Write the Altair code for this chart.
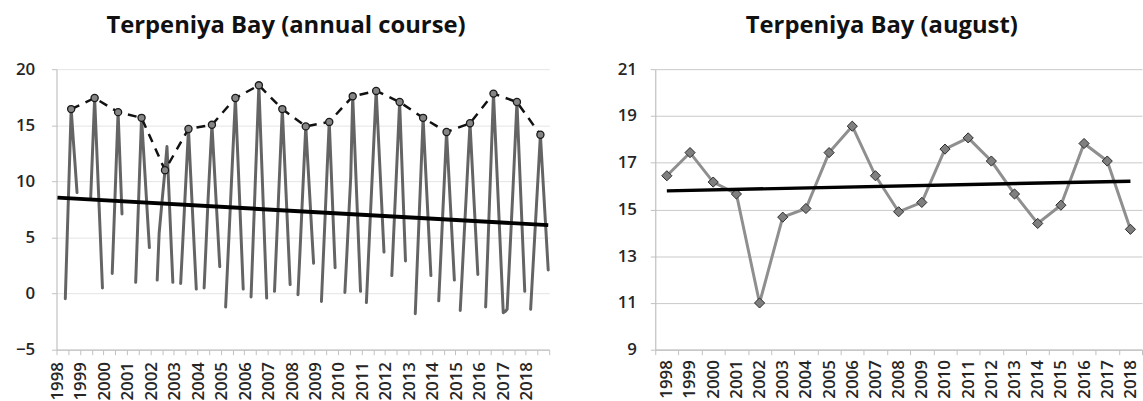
import altair as alt
import pandas as pd

N = None  # no observation that month (ice season)

years = list(range(1998, 2019))

# Monthly mean sea surface temperature, Jan..Dec, degrees C
sst_1998 = [N, N, N, N, -0.45, 5.2, 10.8, 16.44, 13.9, 11.5, 9.0, N]
sst_1999 = [N, N, N, N, N, 8.6, 13.0, 17.43, 13.2, 9.0, 4.8, 0.5]
sst_2000 = [N, N, N, N, 1.8, 6.6, 11.4, 16.17, 11.6, 7.1, N, N]
sst_2001 = [N, N, N, N, 1.0, 5.9, 10.8, 15.66, 12.8, 9.9, 7.0, 4.1]
sst_2002 = [N, N, N, 1.2, 5.4, 7.3, 9.2, 11.0, 13.1, 9.1, 5.0, 1.0]
sst_2003 = [N, N, N, 0.9, 4.3, 7.8, 11.2, 14.67, 11.0, 7.5, 3.9, 0.4]
sst_2004 = [N, N, N, 0.5, 4.4, 8.3, 11.7, 15.04, 11.9, 8.7, 5.6, 2.4]
sst_2005 = [N, N, -1.2, 2.5, 6.2, 10.0, 13.7, 17.43, 13.2, 9.0, 4.7, 0.4]
sst_2006 = [N, N, N, -0.3, 4.4, 9.1, 13.8, 18.56, 13.8, 9.1, 4.3, -0.4]
sst_2007 = [N, N, N, 0.2, 4.3, 8.3, 12.4, 16.44, 12.5, 8.6, 4.7, 0.8]
sst_2008 = [N, N, N, -0.1, 3.6, 7.4, 11.2, 14.9, 11.8, 8.8, 5.7, 2.7]
sst_2009 = [N, N, N, -0.7, 3.3, 7.3, 11.4, 15.3, 11.0, 6.6, 2.3, N]
sst_2010 = [N, N, N, 0.1, 3.5, 7.0, 10.4, 17.58, 13.3, 8.9, 4.6, 0.2]
sst_2011 = [N, N, -0.8, 3.0, 6.8, 10.5, 14.3, 18.06, 14.5, 10.9, 7.3, 3.7]
sst_2012 = [N, N, N, 1.6, 5.5, 9.3, 13.2, 17.07, 12.4, 7.6, 2.9, N]
sst_2013 = [N, N, N, -1.8, 2.6, 6.9, 11.2, 15.66, 12.1, 8.6, 5.1, 1.6]
sst_2014 = [N, N, N, -0.65, 3.1, 6.9, 10.6, 14.4, 11.1, 7.8, 4.5, 1.2]
sst_2015 = [N, N, -1.5, 1.8, 5.2, 8.5, 11.9, 15.18, 11.8, 8.4, 5.1, 1.7]
sst_2016 = [N, N, N, -1.2, 3.5, 8.3, 13.0, 17.82, 13.9, 10.0, 6.1, 2.2]
sst_2017 = [-1.7, -1.6, -1.4, 2.2, 5.8, 9.4, 13.2, 17.07, 12.8, 8.6, 4.4, 0.2]
sst_2018 = [N, N, -1.4, 1.7, 4.8, 7.9, 11.0, 14.15, 11.1, 8.1, 5.1, 2.1]

monthly_by_year = [
    sst_1998, sst_1999, sst_2000, sst_2001, sst_2002, sst_2003, sst_2004,
    sst_2005, sst_2006, sst_2007, sst_2008, sst_2009, sst_2010, sst_2011,
    sst_2012, sst_2013, sst_2014, sst_2015, sst_2016, sst_2017, sst_2018,
]

# August means for the second panel
august = [16.44, 17.43, 16.17, 15.66, 11.0, 14.67, 15.04, 17.43, 18.56, 16.44,
          14.9, 15.3, 17.58, 18.06, 17.07, 15.66, 14.4, 15.18, 17.82, 17.07, 14.15]

# Linear trend of the monthly series (first and last month)
trend_months = [0.5, 251.5]
trend_values = [8.55, 6.10]

# ---- tables ---------------------------------------------------------------
rows = []
run = 0
gap = True
for k, (yr, vals) in enumerate(zip(years, monthly_by_year)):
    for m, v in enumerate(vals):
        if v is None:
            if not gap:
                run += 1
            gap = True
            continue
        gap = False
        rows.append({"t": 12 * k + m + 0.5, "sst": v, "run": run, "month": m + 1})
monthly = pd.DataFrame(rows)
peaks = monthly[monthly["month"] == 8]
trend_left = pd.DataFrame({"t": trend_months, "sst": trend_values})
aug_df = pd.DataFrame({"year": years, "aug": august})

n_months = 12 * len(years)
FONT = "Open Sans"

# ---- annual course panel -------------------------------------------------
x_month = alt.X(
    "t:Q",
    scale=alt.Scale(domain=[0, n_months], nice=False, zero=False),
    axis=alt.Axis(
        values=list(range(0, n_months + 1, 6)),
        labelExpr=(f"datum.value % 12 == 0 && datum.value < {n_months} "
                   f"? '' + ({years[0]} + datum.value / 12) : ''"),
        labelAngle=270, labelAlign="right", labelBaseline="middle",
        labelOverlap=False, labelFlush=False, grid=False,
        tickSize=5, labelPadding=7, title=None, labelOffset=1,
    ),
)
y_sst = alt.Y(
    "sst:Q",
    scale=alt.Scale(domain=[-5, 20], nice=False, zero=False),
    axis=alt.Axis(
        values=[-5, 0, 5, 10, 15, 20], grid=True, gridColor="#e4e4e4",
        tickSize=5, labelPadding=17, minExtent=57, maxExtent=57, title=None,
    ),
)

series = alt.Chart(monthly).mark_line(
    color="#646464", strokeWidth=3, strokeJoin="round", strokeCap="round"
).encode(x=x_month, y=y_sst, detail="run:N")

trend_a = alt.Chart(trend_left).mark_line(color="black", strokeWidth=4).encode(
    x=x_month, y=y_sst
)

peak_line = alt.Chart(peaks).mark_line(
    color="#111111", strokeWidth=2.5, strokeDash=[9, 7]
).encode(x=x_month, y=y_sst)

peak_dots = alt.Chart(peaks).mark_point(
    shape="circle", filled=True, size=52, fill="#858585",
    stroke="#1a1a1a", strokeWidth=1.3, opacity=1
).encode(x=x_month, y=y_sst)

annual = alt.layer(series, trend_a, peak_line, peak_dots).properties(
    width=497, height=283,
    title=alt.TitleParams("Terpeniya Bay (annual course)", dx=-17),
)

# ---- August panel ---------------------------------------------------------
x_year = alt.X(
    "year:O",
    scale=alt.Scale(type="band", paddingInner=0, paddingOuter=0),
    axis=alt.Axis(
        tickBand="extent", labelAngle=270, labelAlign="right",
        labelBaseline="middle", tickSize=5, labelPadding=5, title=None,
        grid=False,
    ),
)
y_aug = alt.Y(
    "aug:Q",
    scale=alt.Scale(domain=[9, 21], nice=False, zero=False),
    axis=alt.Axis(
        values=list(range(9, 22, 2)), grid=True, gridColor="#c8c8c8",
        tickSize=5, labelPadding=14, minExtent=40, maxExtent=40, title=None,
    ),
)

aug_base = alt.Chart(aug_df).encode(x=x_year, y=y_aug)
aug_line = aug_base.mark_line(color="#8f8f8f", strokeWidth=3)
aug_pts = aug_base.mark_point(
    shape="diamond", filled=True, size=105, fill="#7f7f7f",
    stroke="#2b2b2b", strokeWidth=1, opacity=1
)
aug_trend = aug_base.transform_regression("year", "aug").mark_line(
    color="black", strokeWidth=3.5
)

august_chart = alt.layer(aug_line, aug_pts, aug_trend).properties(
    width=491, height=283,
    title=alt.TitleParams("Terpeniya Bay (august)", dx=-17),
)

chart = alt.hconcat(annual, august_chart, spacing=58).properties(
    padding={"left": 0, "right": 0, "top": 13, "bottom": 0}
).configure_view(stroke=None).configure_axis(
    labelFont=FONT, labelFontSize=17, labelFontWeight=600, labelColor="#262626",
    domainColor="#c0c0c0", tickColor="#c0c0c0", domainWidth=1.2,
).configure_title(
    font=FONT, fontSize=24, fontWeight="bold", color="#111111",
    anchor="middle", offset=22,
)

chart.save("out.html", embed_options={"renderer": "svg", "actions": False})
